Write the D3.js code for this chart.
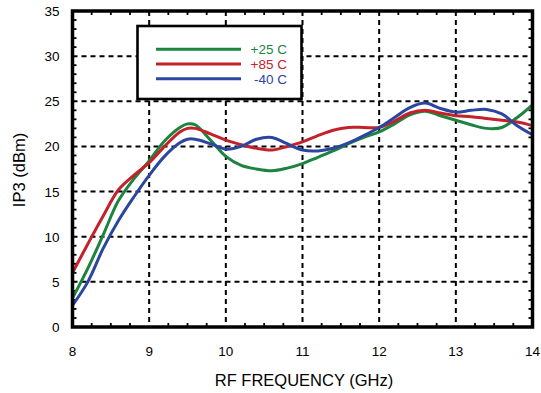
<!DOCTYPE html>
<html>
<head>
<meta charset="utf-8">
<script src="https://cdn.jsdelivr.net/npm/d3@7"></script>
<style>
  body { margin: 0; background: #fff; }
  svg { display: block; font-family: "Liberation Sans", Arial, Helvetica, sans-serif; }
</style>
</head>
<body>
<div id="chart"></div>
<script>
// values
var freq = [8.0, 8.2, 8.4, 8.6, 8.8, 9.0, 9.2, 9.4, 9.5, 9.6, 9.8, 10.0, 10.2, 10.4, 10.6, 10.8,
            11.0, 11.2, 11.4, 11.6, 11.8, 12.0, 12.2, 12.4, 12.6, 12.8, 13.0, 13.2, 13.4, 13.6, 13.8, 14.0];
var ip3_p25 = [3.2, 6.5, 10.2, 14.0, 16.4, 18.4, 20.6, 22.1, 22.5, 22.4, 20.7, 18.9, 17.9, 17.5, 17.3, 17.6,
               18.1, 18.8, 19.5, 20.3, 21.0, 21.6, 22.5, 23.5, 23.9, 23.4, 22.9, 22.4, 22.0, 22.1, 23.2, 24.6];
var ip3_p85 = [6.0, 9.2, 12.3, 15.2, 16.8, 18.2, 20.0, 21.6, 22.0, 22.0, 21.4, 20.7, 20.2, 19.8, 19.6, 20.0,
               20.5, 21.2, 21.8, 22.1, 22.1, 22.1, 22.8, 23.7, 24.0, 23.7, 23.4, 23.3, 23.1, 22.9, 22.7, 22.3];
var ip3_m40 = [2.4, 5.0, 8.7, 11.8, 14.4, 16.8, 18.9, 20.4, 20.8, 20.8, 20.3, 19.7, 20.0, 20.8, 21.0, 20.3,
               19.6, 19.5, 19.8, 20.4, 21.2, 22.1, 23.2, 24.3, 24.8, 24.2, 23.8, 24.0, 24.1, 23.6, 22.3, 21.3];

var xTicks = [8, 9, 10, 11, 12, 13, 14];
var yTicks = [0, 5, 10, 15, 20, 25, 30, 35];

var series = [
    { name: '+25 C', color: '#1c843f', values: ip3_p25 },
    { name: '+85 C', color: '#c3222b', values: ip3_p85 },
    { name: '-40 C', color: '#2b46a0', values: ip3_m40 }
];

var width = 541, height = 393;
var margin = { top: 11, right: 8.5, bottom: 66, left: 72.5 };
var w = width - margin.left - margin.right,
    h = height - margin.top - margin.bottom;

var svg = d3.select('#chart').append('svg')
    .attr('width', width)
    .attr('height', height);

var g = svg.append('g')
    .attr('transform', 'translate(' + margin.left + ',' + margin.top + ')');

var x = d3.scaleLinear().domain([8, 14]).range([0, w]);
var y = d3.scaleLinear().domain([0, 35]).range([h, 0]);

// dashed grid
g.append('g').selectAll('line')
    .data(xTicks.slice(1, -1))
    .enter().append('line')
    .attr('x1', d => x(d)).attr('x2', d => x(d))
    .attr('y1', 0).attr('y2', h)
    .attr('stroke', '#000').attr('stroke-width', 2)
    .attr('stroke-dasharray', '5,4');

g.append('g').selectAll('line')
    .data(yTicks.slice(1, -1))
    .enter().append('line')
    .attr('y1', d => y(d)).attr('y2', d => y(d))
    .attr('x1', 0).attr('x2', w)
    .attr('stroke', '#000').attr('stroke-width', 2)
    .attr('stroke-dasharray', '5,4');

// minor ticks on all four sides, pointing in
var xMinor = d3.range(8.25, 14, 0.25).filter(d => Math.abs(d - Math.round(d)) > 0.01);
var yMinor = d3.range(1, 35, 1).filter(d => d % 5 !== 0);
var tl = 4;

var ticks = g.append('g').attr('stroke', '#000').attr('stroke-width', 1.8);
xMinor.forEach(function(d) {
    ticks.append('line').attr('x1', x(d)).attr('x2', x(d)).attr('y1', h).attr('y2', h - tl);
    ticks.append('line').attr('x1', x(d)).attr('x2', x(d)).attr('y1', 0).attr('y2', tl);
});
yMinor.forEach(function(d) {
    ticks.append('line').attr('y1', y(d)).attr('y2', y(d)).attr('x1', 0).attr('x2', tl);
    ticks.append('line').attr('y1', y(d)).attr('y2', y(d)).attr('x1', w).attr('x2', w - tl);
});

// legend box, white fill hides the grid behind it
var legend = svg.append('g');
legend.append('rect')
    .attr('x', 137.5).attr('y', 26)
    .attr('width', 164).attr('height', 73)
    .attr('fill', '#fff').attr('stroke', '#000').attr('stroke-width', 2.6);

series.forEach(function(s, i) {
    var ly = 49.3 + i * 14.7;
    legend.append('line')
        .attr('x1', 156).attr('x2', 241)
        .attr('y1', ly).attr('y2', ly)
        .attr('stroke', s.color).attr('stroke-width', 3);
    legend.append('text')
        .attr('x', 287).attr('y', ly + 5)
        .attr('text-anchor', 'end')
        .attr('font-size', 13.5)
        .attr('fill', s.color)
        .text(s.name);
});

// curves
svg.append('defs').append('clipPath').attr('id', 'clip')
    .append('rect').attr('width', w).attr('height', h);

var line = d3.line()
    .x((d, i) => x(freq[i]))
    .y(d => y(d))
    .curve(d3.curveCatmullRom.alpha(0.5));

g.append('g').attr('clip-path', 'url(#clip)')
    .selectAll('path')
    .data(series)
    .enter().append('path')
    .attr('d', d => line(d.values))
    .attr('fill', 'none')
    .attr('stroke', d => d.color)
    .attr('stroke-width', 3)
    .attr('stroke-linejoin', 'round');

// frame
g.append('rect')
    .attr('width', w).attr('height', h)
    .attr('fill', 'none').attr('stroke', '#000').attr('stroke-width', 3.5);

// tick labels
g.append('g').selectAll('text')
    .data(xTicks)
    .enter().append('text')
    .attr('x', d => x(d))
    .attr('y', h + 29)
    .attr('text-anchor', 'middle')
    .attr('font-size', 13.5)
    .text(d => d);

g.append('g').selectAll('text')
    .data(yTicks)
    .enter().append('text')
    .attr('x', -13)
    .attr('y', d => y(d) + 5)
    .attr('text-anchor', 'end')
    .attr('font-size', 13.5)
    .text(d => d);

// axis titles
svg.append('text')
    .attr('x', 304).attr('y', 386)
    .attr('text-anchor', 'middle')
    .attr('font-size', 16.5)
    .text('RF FREQUENCY (GHz)');

svg.append('text')
    .attr('transform', 'translate(25,170) rotate(-90)')
    .attr('text-anchor', 'middle')
    .attr('font-size', 16.5)
    .text('IP3 (dBm)');
</script>
</body>
</html>
